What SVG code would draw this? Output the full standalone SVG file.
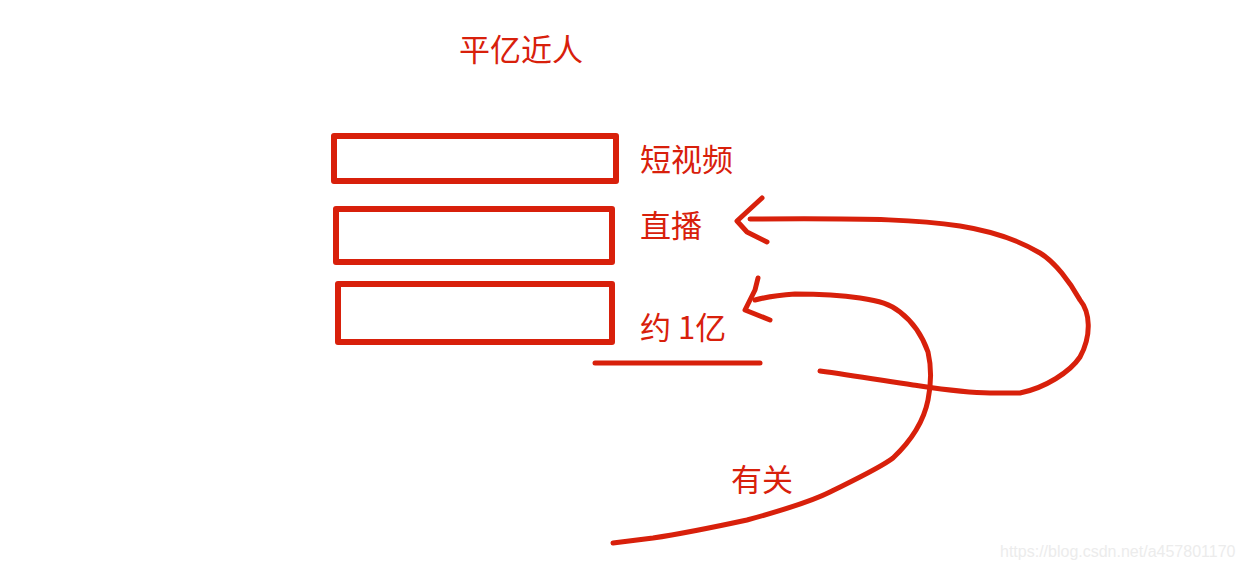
<svg xmlns="http://www.w3.org/2000/svg" width="1243" height="570" viewBox="0 0 1243 570">
<style>
.box{fill:none;stroke:#d8200b;stroke-width:6;stroke-linejoin:round}
.lbl{font-family:"Noto Sans CJK SC","Noto Sans",sans-serif;font-size:31px;fill:#d8200b}
.ink{fill:none;stroke:#d8200b;stroke-width:5;stroke-linecap:round;stroke-linejoin:round}
.wm{font-family:"Liberation Sans",Arial,sans-serif;font-size:16px;fill:#ececec}
</style>
<rect width="1243" height="570" fill="#ffffff"/>
<g id="title"><text class="lbl" x="459" y="61">平亿近人</text></g>
<g id="box-short-video">
<rect class="box" x="334" y="136" width="282" height="45"/>
<text class="lbl" x="640" y="171">短视频</text>
</g>
<g id="box-live">
<rect class="box" x="336" y="209" width="276" height="53"/>
<text class="lbl" x="640" y="237">直播</text>
</g>
<g id="box-100m">
<rect class="box" x="338" y="284" width="274" height="58"/>
<text class="lbl" x="640" y="339">约 1亿</text>
</g>
<g id="related"><text class="lbl" x="731" y="491">有关</text></g>
<g id="connectors">
<path class="ink" d="M595,363 L760,363"/>
<path class="ink" d="M820,371 C850,375 880,380 913,385 C940,389 965,393 990,393 L1020,393 C1045,388 1070,372 1080,357 C1092,335 1090,312 1080,300 C1070,282 1055,262 1040,253 C1015,238 985,230 960,226 C920,220 880,218 750,219"/>
<path class="ink" d="M762,198 L750,209 L737,221 L747,232 L767,242"/>
<path class="ink" d="M613,543 L653,538 C680,534 710,528 747,520 C780,511 810,502 830,492 C850,482 880,468 893,458 C912,440 924,420 928,400 C932,380 931,365 928,352 C922,335 913,322 900,312 C890,304 880,301 860,298 C840,295 815,294 795,294 C780,295 770,296 755,300"/>
<path class="ink" d="M758,278 L755,290 L745,310 L770,320"/>
</g>
<text class="wm" x="1000" y="557">https://blog.csdn.net/a457801170</text>
</svg>
